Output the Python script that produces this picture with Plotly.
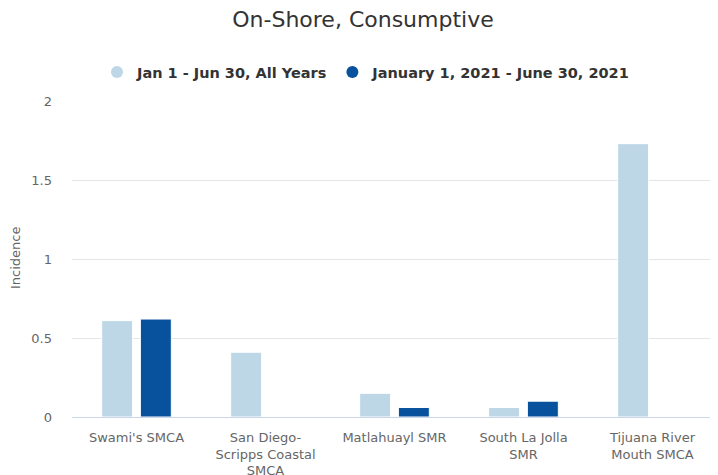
import plotly.graph_objects as go

categories = ["Swami's SMCA", "San Diego-<br>Scripps Coastal<br>SMCA", "Matlahuayl SMR",
              "South La Jolla<br>SMR", "Tijuana River<br>Mouth SMCA"]
series_names = ["Jan 1 - Jun 30, All Years", "January 1, 2021 - June 30, 2021"]
all_years = [0.61, 0.41, 0.15, 0.06, 1.73]
year_2021 = [0.62, 0.0, 0.06, 0.10, 0.0]
colors = ["#bdd7e7", "#08519c"]

FONT = "DejaVu Sans"

# page body has an 8px margin; figure is sized/placed to compensate
OFF = 8
W, H = 718 - OFF, 475 - OFF
L, R, T, B = 72 - OFF, 1, 101 - OFF, 58
PW, PH = W - L - R, H - T - B

fig = go.Figure()
for name, vals, c in zip(series_names, [all_years, year_2021], colors):
    fig.add_trace(go.Bar(
        x=categories, y=vals, name=name, showlegend=False,
        marker=dict(color=c, line=dict(color="white", width=1)),
    ))

for name, c in zip(series_names, colors):
    fig.add_trace(go.Scatter(
        x=[None], y=[None], mode="markers", name=name,
        marker=dict(color=c, size=15, symbol="circle"),
        showlegend=True,
    ))

fig.add_annotation(text="Incidence", xref="paper", yref="paper",
                   x=-(L - (15 - OFF)) / PW, y=(417 - 258) / 316, xanchor="center", yanchor="middle",
                   textangle=-90, showarrow=False,
                   font=dict(family=FONT, size=13, color="#666666"))

fig.update_layout(
    width=W, height=H,
    margin=dict(l=L, r=R, t=T, b=B, autoexpand=False),
    paper_bgcolor="white", plot_bgcolor="white",
    font=dict(family=FONT, color="#666666", size=13),
    title=dict(text="On-Shore, Consumptive", x=(363 - OFF) / W, xanchor="center",
               xref="container", y=1 - (19 - OFF) / H, yanchor="middle", yref="container",
               font=dict(family=FONT, size=22, color="#333333")),
    legend=dict(orientation="h", x=(117 - OFF - 20 - L) / PW, xanchor="left",
                y=1 + (T - (72 - OFF)) / PH, yanchor="middle",
                font=dict(family=FONT, size=14.5, color="#333333", weight="bold"),
                itemsizing="constant", traceorder="normal"),
    barmode="group", bargap=0.4, bargroupgap=0.2,
    xaxis=dict(showgrid=False, showline=True, linecolor="#ccd6eb", linewidth=1,
               ticks="", ticklabelstandoff=8,
               tickfont=dict(family=FONT, size=13, color="#666666"),
               automargin=False, fixedrange=True),
    yaxis=dict(range=[0, 2], tickvals=[0, 0.5, 1, 1.5, 2], ticktext=["0", "0.5", "1", "1.5", "2"],
               showgrid=True, gridcolor="#e6e6e6", gridwidth=1, zeroline=False,
               showline=False, ticks="", ticklabelstandoff=19, automargin=False,
               tickfont=dict(family=FONT, size=13, color="#666666"), fixedrange=True),
)

fig.write_html("out.html")
